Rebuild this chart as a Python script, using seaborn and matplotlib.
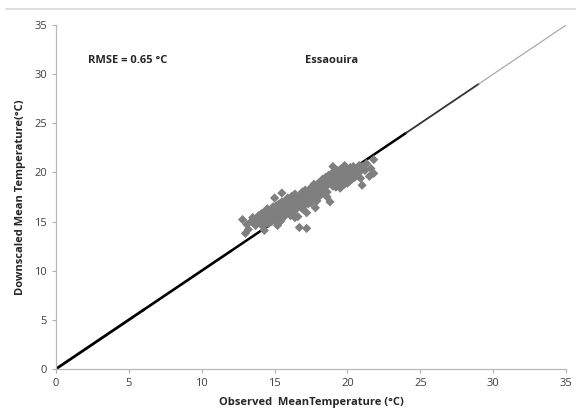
import numpy as np
import pandas as pd
import seaborn as sns
import matplotlib.pyplot as plt
from matplotlib.lines import Line2D

# Observed vs downscaled mean temperature (deg C)
obs = [
    12.8, 13.0, 13.1, 13.2, 13.4, 13.5, 13.7, 13.8, 13.9, 14.0, 14.1, 14.2, 14.2, 14.3, 14.4,
    14.4, 14.5, 14.5, 14.6, 14.6, 14.7, 14.7, 14.8, 14.8, 14.9, 14.9, 15.0, 15.0, 15.0, 15.1,
    15.1, 15.2, 15.2, 15.3, 15.3, 15.4, 15.4, 15.5, 15.5, 15.5, 15.6, 15.6, 15.7, 15.7, 15.8,
    15.8, 15.9, 15.9, 16.0, 16.0, 16.1, 16.1, 16.2, 16.2, 16.3, 16.3, 16.4, 16.4, 16.5, 16.5,
    16.6, 16.6, 16.7, 16.7, 16.8, 16.8, 16.9, 16.9, 17.0, 17.0, 17.1, 17.1, 17.2, 17.2, 17.3,
    17.3, 17.4, 17.4, 17.5, 17.5, 17.6, 17.6, 17.7, 17.7, 17.8, 17.8, 17.9, 17.9, 18.0, 18.0,
    18.1, 18.1, 18.2, 18.2, 18.3, 18.3, 18.4, 18.4, 18.5, 18.5, 18.6, 18.6, 18.7, 18.7, 18.8,
    18.8, 18.9, 18.9, 19.0, 19.0, 19.0, 19.1, 19.1, 19.1, 19.2, 19.2, 19.2, 19.3, 19.3, 19.3,
    19.4, 19.4, 19.4, 19.5, 19.5, 19.5, 19.6, 19.6, 19.6, 19.7, 19.7, 19.7, 19.8, 19.8, 19.8,
    19.9, 19.9, 19.9, 20.0, 20.0, 20.0, 20.1, 20.1, 20.1, 20.2, 20.2, 20.3, 20.3, 20.4, 20.4,
    20.5, 20.5, 20.6, 20.6, 20.7, 20.8, 20.9, 21.0, 21.2, 21.5, 21.8, 21.8, 14.0, 15.5, 15.0,
    16.4, 17.2, 16.9, 18.6, 19.5, 18.8, 21.0, 16.1, 17.6, 19.0, 20.2, 14.9, 15.8, 18.3, 19.8,
    13.6, 14.3, 15.2, 16.6, 17.8, 21.3, 21.6, 20.8,
]
down = [
    15.2, 13.8, 14.7, 14.2, 15.0, 15.4, 14.6, 15.1, 15.6, 14.9, 15.8, 15.3, 14.5, 16.0, 15.5,
    15.0, 16.3, 15.7, 15.2, 14.8, 16.1, 15.5, 15.9, 15.0, 16.5, 16.0, 15.3, 15.7, 16.2, 15.1,
    16.6, 15.9, 16.4, 15.5, 16.8, 16.1, 15.0, 16.3, 15.7, 17.0, 16.5, 15.4, 16.9, 16.1, 17.2,
    15.8, 16.6, 17.4, 16.2, 16.9, 15.6, 17.3, 16.4, 17.6, 16.0, 17.0, 16.7, 17.8, 16.3, 17.1,
    17.5, 16.5, 16.9, 14.4, 17.7, 16.7, 17.2, 18.0, 16.6, 17.5, 18.2, 17.0, 17.4, 14.3, 16.8,
    17.9, 17.2, 18.3, 16.9, 17.7, 18.5, 17.3, 17.9, 18.8, 17.5, 18.2, 17.1, 18.6, 17.8, 18.9,
    18.4, 17.6, 19.1, 18.1, 18.7, 19.3, 18.0, 18.9, 19.5, 18.6, 19.1, 17.5, 19.7, 18.8, 17.0,
    19.4, 18.9, 19.8, 19.2, 18.6, 20.0, 19.5, 18.8, 20.1, 19.3, 19.8, 18.5, 19.6, 20.2, 19.0,
    19.9, 19.4, 18.7, 20.3, 19.1, 19.7, 20.0, 19.3, 18.9, 20.4, 19.6, 19.0, 20.1, 19.4, 18.8,
    20.5, 19.7, 19.2, 20.2, 19.5, 18.9, 20.3, 19.8, 19.1, 20.5, 19.6, 20.1, 19.3, 20.6, 19.8,
    20.2, 19.5, 20.4, 19.7, 20.0, 20.7, 19.4, 18.7, 20.2, 19.6, 19.9, 21.3, 15.6, 17.9, 17.4,
    15.4, 15.9, 16.3, 18.0, 18.4, 19.6, 20.6, 16.9, 17.1, 20.6, 19.2, 16.2, 16.8, 19.3, 20.7,
    14.9, 14.1, 14.6, 15.5, 16.4, 20.9, 20.4, 20.0,
]

# 1:1 reference line, drawn in pieces that get thinner towards the top
line_breaks = [0, 6, 12, 24, 29, 35]
line_widths = [2.0, 1.9, 1.8, 1.3, 0.9]
line_colors = ["black", "black", "black", "#333333", "#aaaaaa"]

ticks = [0, 5, 10, 15, 20, 25, 30, 35]

df = pd.DataFrame({"obs": obs, "down": down})

sns.set_style("white")
plt.rcParams["font.family"] = ["Open Sans", "DejaVu Sans"]

fig = plt.figure(figsize=(5.76, 4.16), dpi=100)
ax = fig.add_axes([0.097, 0.113, 0.886, 0.827])

for i in range(len(line_widths)):
    seg = pd.DataFrame({"x": line_breaks[i:i + 2], "y": line_breaks[i:i + 2]})
    sns.lineplot(data=seg, x="x", y="y", ax=ax, color=line_colors[i],
                 linewidth=line_widths[i], zorder=1)

sns.scatterplot(data=df, x="obs", y="down", ax=ax, marker="D", s=22,
                color="#7f7f7f", edgecolor="none", linewidth=0, zorder=2)

ax.set_xlim(0, 35)
ax.set_ylim(0, 35)
ax.set_xticks(ticks)
ax.set_yticks(ticks)
ax.tick_params(axis="both", labelsize=8, colors="#b0b0b0", labelcolor="#404040",
               length=3, width=0.8, direction="out", bottom=True, left=True)
ax.set_xlabel("Observed  MeanTemperature (°C)", fontsize=8, fontweight="bold", labelpad=6)
ax.set_ylabel("Downscaled Mean Temperature(°C)", fontsize=8, fontweight="bold", labelpad=6)

for side in ["top", "right"]:
    ax.spines[side].set_visible(False)
for side in ["left", "bottom"]:
    ax.spines[side].set_color("#b8b8b8")
    ax.spines[side].set_linewidth(0.9)

ax.text(2.2, 31.4, "RMSE = 0.65 °C", fontsize=8, fontweight="bold", va="center")
ax.text(17.1, 31.4, "Essaouira", fontsize=8, fontweight="bold", va="center")

fig.add_artist(Line2D([0.01, 1.0], [0.978, 0.978], color="#d8d8d8", linewidth=1.2))

fig.savefig("out.png", dpi=100)
